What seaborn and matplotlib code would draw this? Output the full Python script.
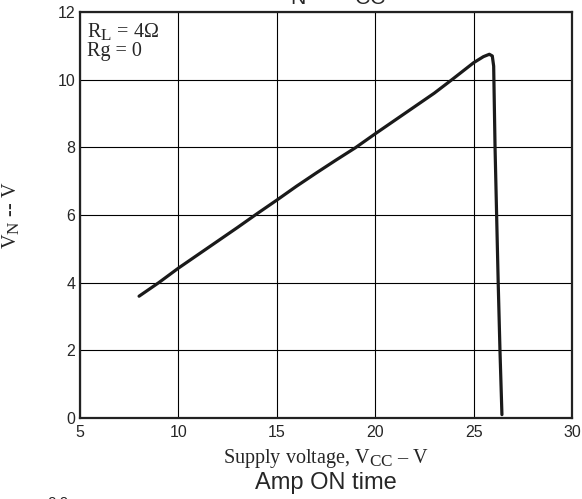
import numpy as np
import pandas as pd
import matplotlib
matplotlib.use("Agg")
import matplotlib.pyplot as plt
import matplotlib._mathtext as mathtext_internals
import seaborn as sns

# curve (supply voltage vs V_N)
vcc = [8.0, 9.0, 10.0, 11.0, 12.0, 13.0, 14.0, 15.0, 16.0, 17.0, 18.0, 19.0, 20.0,
       21.0, 22.0, 23.0, 23.9, 25.0, 25.5, 25.8, 25.95, 26.02, 26.09, 26.17,
       26.25, 26.34, 26.44]
vn = [3.6, 4.0, 4.43, 4.83, 5.23, 5.63, 6.04, 6.44, 6.85, 7.24, 7.62, 7.99, 8.4,
      8.8, 9.2, 9.6, 10.0, 10.5, 10.68, 10.75, 10.7, 10.4, 8.0, 6.0,
      4.0, 2.0, 0.1]

x_ticks = [5, 10, 15, 20, 25, 30]
y_ticks = [0, 2, 4, 6, 8, 10, 12]

df = pd.DataFrame({"vcc": vcc, "vn": vn})

sns.set_style("white")
plt.rcParams["mathtext.fontset"] = "custom"
plt.rcParams["mathtext.rm"] = "Liberation Serif"
plt.rcParams["mathtext.sf"] = "Liberation Sans"
# subscripts in the datasheet are nearly full size
mathtext_internals.SHRINK_FACTOR = 0.85

fig = plt.figure(figsize=(5.82, 4.99), dpi=100)
ax = fig.add_axes([0.1375, 0.1623, 0.8453, 0.8137])

sns.lineplot(data=df, x="vcc", y="vn", sort=False, color="#1a1a1a",
             linewidth=2.3, ax=ax)

ax.set_xlim(5, 30)
ax.set_ylim(0, 12)
ax.set_xticks(x_ticks)
ax.set_yticks(y_ticks)
ax.set_xticklabels([str(t) for t in x_ticks], family="Liberation Sans", fontsize=11.5)
ax.set_yticklabels([str(t) for t in y_ticks], family="Liberation Sans", fontsize=11.5)
ax.tick_params(axis="both", length=0)
ax.tick_params(axis="x", pad=5)
ax.tick_params(axis="y", pad=3.5)
ax.grid(True, color="black", linewidth=0.8)
for s in ax.spines.values():
    s.set_color("#222222")
    s.set_linewidth(1.6)

ax.set_xlabel(r"Supply voltage, V$_{\mathrm{CC}}$ – V", family="Liberation Serif",
              fontsize=14.5)
ax.set_ylabel(r"V$_{\mathrm{N}}$ -- V", family="Liberation Serif", fontsize=14.5)
ax.xaxis.set_label_coords(0.5, -0.072)
ax.yaxis.set_label_coords(-0.118, 0.5)

ax.text(0.014, 0.976, r"R$_{\mathrm{L}}$ = 4$\mathrm{\Omega}$" + "\n" + "Rg = 0",
        transform=ax.transAxes, va="top", ha="left", family="Liberation Serif",
        fontsize=14.5, linespacing=0.95)

# clipped title at the top and caption at the bottom
fig.text(0.567, 0.999, r"V$_{\mathsf{N}}$ -- V$_{\mathsf{CC}}$", ha="center",
         va="baseline", family="Liberation Sans", fontsize=18)
fig.text(0.56, 0.02, "Amp ON time", ha="center", va="baseline",
         family="Liberation Sans", fontsize=17)
fig.text(0.1, -0.008, "0.0", ha="center", va="center",
         family="Liberation Sans", fontsize=11)

fig.savefig("out.png", dpi=100)
